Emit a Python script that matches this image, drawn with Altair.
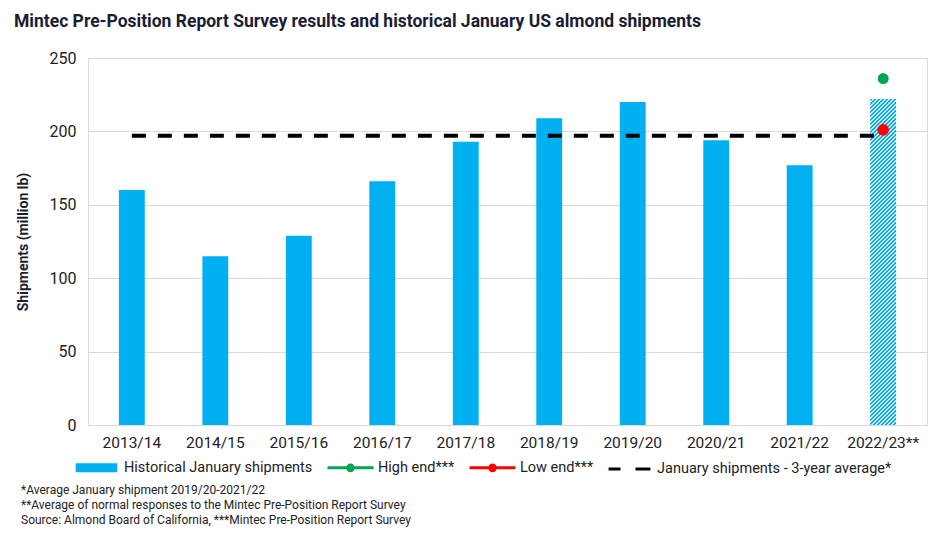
import altair as alt
import pandas as pd

# ---- data ----
seasons = ["2013/14", "2014/15", "2015/16", "2016/17", "2017/18",
           "2018/19", "2019/20", "2020/21", "2021/22", "2022/23**"]
shipments = [160, 115, 129, 166, 193, 209, 220, 194, 177, 222]
forecast_season = "2022/23**"
high_end = [236]
low_end = [201]
avg_3yr = 197

legend_labels = ["Historical January shipments", "High end***", "Low end***",
                 "January shipments - 3-year average*"]
legend_colors = ["#00B0F0", "#00A650", "#FF0000", "#000000"]

footnotes = ["*Average January shipment 2019/20-2021/22",
             "**Average of normal responses to the Mintec Pre-Position Report Survey",
             "Source: Almond Board of California, ***Mintec Pre-Position Report Survey"]

# ---- tables ----
hist_df = pd.DataFrame({"season": seasons[:-1], "value": shipments[:-1]})
fc_df = pd.DataFrame({"season": [forecast_season], "value": [shipments[-1]]})
avg_df = pd.DataFrame({"season": seasons, "value": [avg_3yr] * len(seasons)})
high_df = pd.DataFrame({"season": [forecast_season], "value": high_end})
low_df = pd.DataFrame({"season": [forecast_season], "value": low_end})
leg_df = pd.DataFrame({"series": legend_labels, "keep": [0, 0, 0, 0]})

W, H = 839, 367
BLUE = "#00B0F0"
FONT = "Roboto"

xscale = alt.Scale(domain=seasons, paddingInner=0.69, paddingOuter=0.37)
yscale = alt.Scale(domain=[0, 250], nice=False)

x_enc = alt.X("season:N", scale=xscale, sort=seasons,
              axis=alt.Axis(title=None, labelAngle=0, ticks=False, domain=False,
                            grid=False, labelFontSize=15.5, labelFont=FONT,
                            labelColor="#222222", labelPadding=10))
y_enc = alt.Y("value:Q", scale=yscale,
              axis=alt.Axis(title="Shipments (million lb)", values=[0, 50, 100, 150, 200, 250],
                            ticks=False, domain=False, grid=True, gridColor="#d9d9d9",
                            labelFontSize=16, labelFont=FONT, labelColor="#222222",
                            labelPadding=12, titleFontSize=14, titleFont=FONT,
                            titleFontWeight="bold", titleColor="#1a1d33",
                            titleX=-65, titleY=H / 2, titleAngle=270,
                            titleAlign="center", titleBaseline="middle"))

bars = alt.Chart(hist_df).mark_bar(color=BLUE).encode(x=x_enc, y=y_enc)

# hatched forecast bar (diagonal stripes via hard-stop linear gradient)
bw = W / (10 - 0.69 + 2 * 0.37) * 0.31
bh = shipments[-1] / 250 * H
a = bw / bh
s = (a + 1) / (a * a + 1)
n_stripes = 88
stops = []
for i in range(n_stripes):
    o0 = i / n_stripes
    om = (i + 0.55) / n_stripes
    o1 = (i + 1) / n_stripes
    stops += [alt.GradientStop(offset=o0, color="#0FA5DD"),
              alt.GradientStop(offset=om, color="#0FA5DD"),
              alt.GradientStop(offset=om, color="#C8EDFA"),
              alt.GradientStop(offset=o1, color="#C8EDFA")]
hatch = alt.Gradient(gradient="linear", x1=0, y1=0, x2=a * s, y2=s, stops=stops)
fc_bar = alt.Chart(fc_df).mark_bar(color=hatch).encode(x=x_enc, y=y_enc)

avg_line = alt.Chart(avg_df).mark_line(color="#000000", strokeWidth=4,
                                       strokeDash=[14, 12]).encode(x=x_enc, y=y_enc)

high_pt = alt.Chart(high_df).mark_circle(color="#00A650", size=120, opacity=1).encode(x=x_enc, y=y_enc)
low_pt = alt.Chart(low_df).mark_circle(color="#FF0000", size=135, opacity=1).encode(x=x_enc, y=y_enc)

# legend shapes (unit coords scaled by sqrt(size)/2)
dot = "M-0.12,0 A0.12,0.12 0 1,0 0.12,0 A0.12,0.12 0 1,0 -0.12,0 Z"
shapes = ["M-0.84,-0.13 L0.84,-0.13 L0.84,0.13 L-0.84,0.13 Z",
          "M-1,0 L1,0 " + dot,
          "M-1,0 L1,0 " + dot,
          "M-0.91,0 L-0.39,0 M0.26,0 L0.91,0"]
leg = alt.Legend(title=None, orient="none", legendX=-16, legendY=H + 18,
                 direction="horizontal", columns=4, symbolSize=2116,
                 symbolStrokeWidth=3, symbolOpacity=1, labelFontSize=14.5,
                 labelFont=FONT, labelColor="#222222", labelOffset=3,
                 columnPadding=8, labelLimit=400, padding=0)
legend_layer = alt.Chart(leg_df).transform_filter("datum.keep > 0").mark_point(
    filled=True, opacity=1).encode(
    x=x_enc, y=alt.Y("keep:Q", scale=yscale),
    fill=alt.Fill("series:N", scale=alt.Scale(domain=legend_labels, range=legend_colors), legend=leg),
    stroke=alt.Stroke("series:N", scale=alt.Scale(domain=legend_labels, range=legend_colors), legend=leg),
    shape=alt.Shape("series:N", scale=alt.Scale(domain=legend_labels, range=shapes), legend=leg),
)

notes = alt.Chart(pd.DataFrame({"t": [0]})).mark_text(
    align="left", baseline="middle", fontSize=12, font=FONT, color="#222222",
    lineHeight=15).encode(
    text=alt.value(footnotes), x=alt.value(-67), y=alt.value(H + 65))

chart = alt.layer(bars, fc_bar, avg_line, high_pt, low_pt, legend_layer, notes).properties(
    width=W, height=H,
    title=alt.TitleParams(
        "Mintec Pre-Position Report Survey results and historical January US almond shipments",
        anchor="start", frame="group", dx=-74, offset=20, fontSize=17.5, font=FONT,
        fontWeight="bold", color="#1a1d33"),
    autosize=alt.AutoSizeParams(type="none"),
    padding={"left": 80, "top": 50, "right": 6, "bottom": 105},
).configure_view(stroke=None).configure(background="white")

chart.save("out.html", embed_options={"renderer": "svg", "actions": False})
